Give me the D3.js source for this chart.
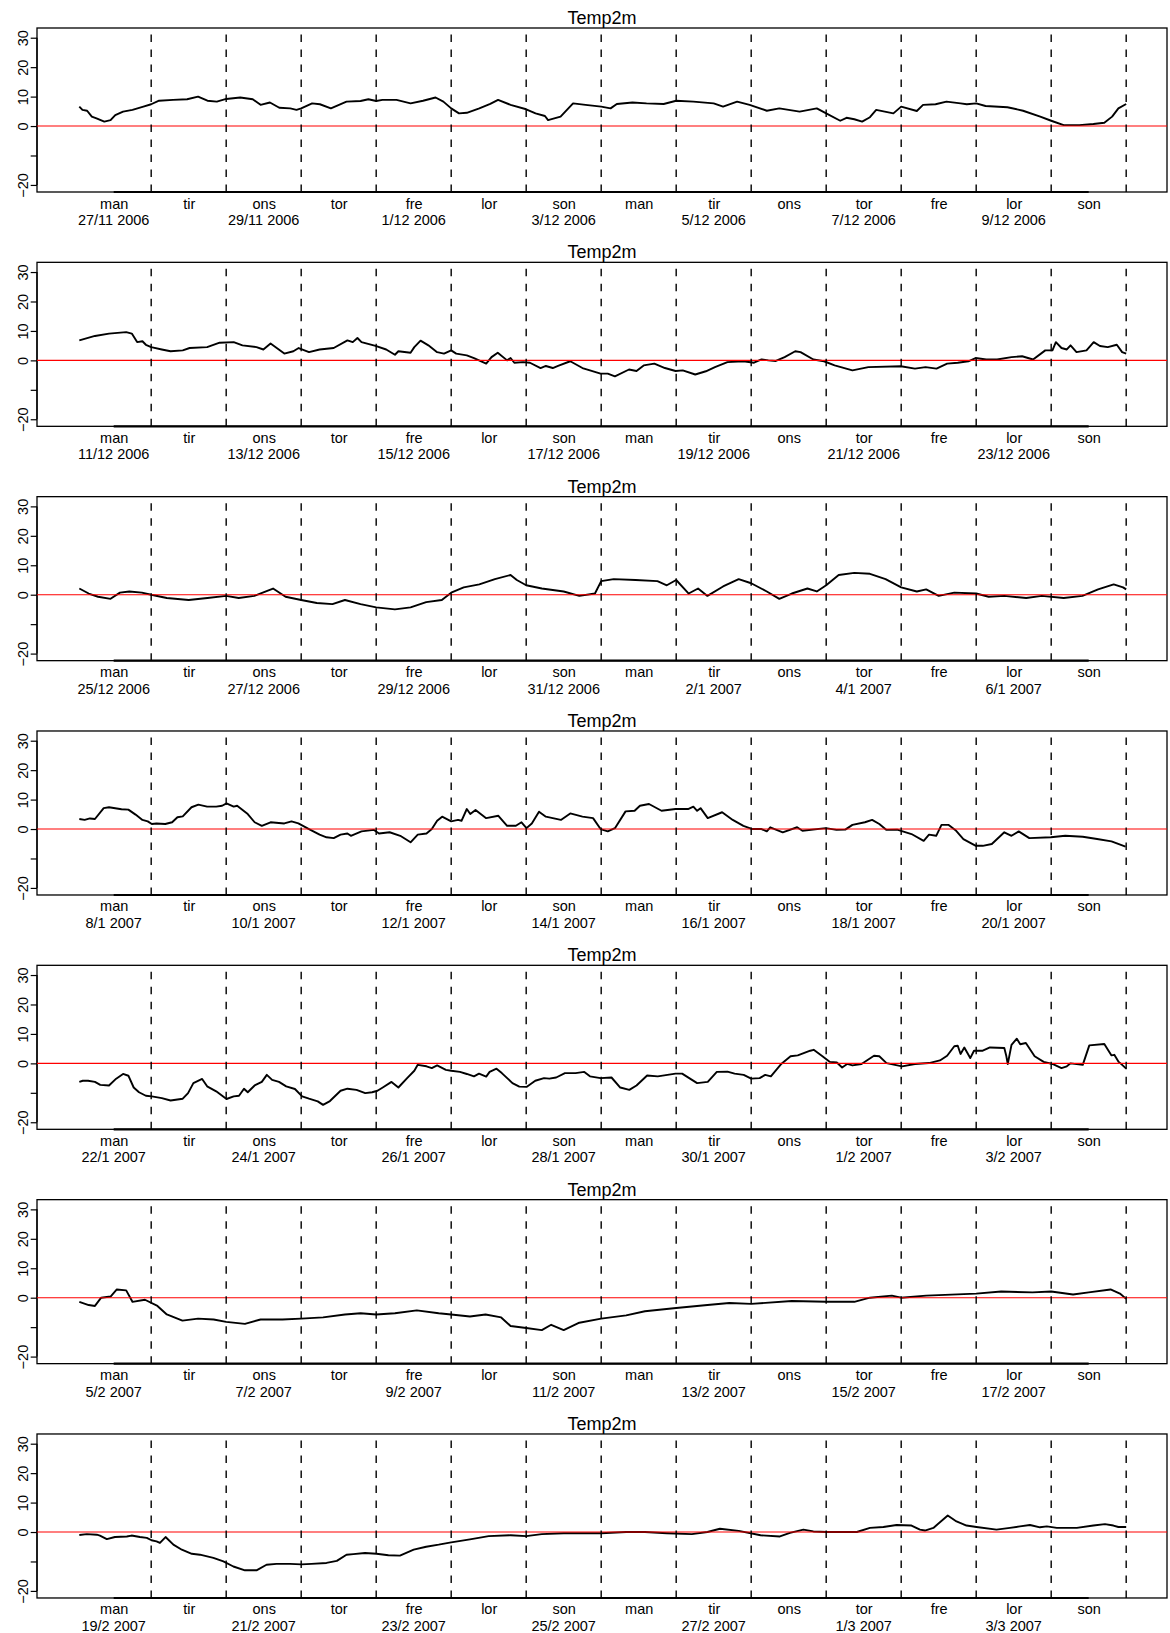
<!DOCTYPE html>
<html>
<head>
<meta charset="utf-8">
<script src="https://cdn.jsdelivr.net/npm/d3@7"></script>
<style>
  body { margin: 0; background: #fff; }
  svg { display: block; }
</style>
</head>
<body>
<svg id="chart" width="1170" height="1633"></svg>
<script>
// ---------------- data ----------------
const chartTitle = "Temp2m";
const dayNames = ["man","tir","ons","tor","fre","lor","son","man","tir","ons","tor","fre","lor","son"];
const yTicks = [-20, -10, 0, 10, 20, 30];
const yTickLabels = ["\u221220", "", "0", "10", "20", "30"];

const dates1 = ["27/11 2006","29/11 2006","1/12 2006","3/12 2006","5/12 2006","7/12 2006","9/12 2006"];
const dates2 = ["11/12 2006","13/12 2006","15/12 2006","17/12 2006","19/12 2006","21/12 2006","23/12 2006"];
const dates3 = ["25/12 2006","27/12 2006","29/12 2006","31/12 2006","2/1 2007","4/1 2007","6/1 2007"];
const dates4 = ["8/1 2007","10/1 2007","12/1 2007","14/1 2007","16/1 2007","18/1 2007","20/1 2007"];
const dates5 = ["22/1 2007","24/1 2007","26/1 2007","28/1 2007","30/1 2007","1/2 2007","3/2 2007"];
const dates6 = ["5/2 2007","7/2 2007","9/2 2007","11/2 2007","13/2 2007","15/2 2007","17/2 2007"];
const dates7 = ["19/2 2007","21/2 2007","23/2 2007","25/2 2007","27/2 2007","1/3 2007","3/3 2007"];

// [hour since Monday 00:00, temperature °C]
const temp1 = [[1,6.6],[2,5.5],[3.5,5.2],[5,3.2],[6.5,2.6],[9,1.5],[11,2.0],[12.5,3.7],[15,4.9],[18,5.5],[21.5,6.6],[24,7.4],[26.5,8.6],[31,8.9],[35.5,9.1],[39,10.0],[42,8.6],[45,8.3],[48,9.2],[52.5,9.7],[56.5,9.1],[59,7.2],[62,8.0],[65,6.2],[68.5,6.0],[70.5,5.5],[72,6.0],[75.5,7.7],[78,7.4],[81.5,6.0],[86.5,8.3],[91,8.5],[93.5,9.1],[96,8.5],[98,8.9],[102.5,8.9],[107,7.7],[111,8.6],[115,9.7],[117.5,8.3],[120,6.0],[122.5,4.3],[125,4.5],[129,6.0],[132.5,7.5],[135,8.9],[139,7.2],[144,5.7],[147,4.3],[150,3.4],[151,2.0],[155,3.2],[159,7.7],[163,7.2],[168,6.6],[171,6.0],[173,7.5],[178,8.0],[182.5,7.7],[188,7.5],[192,8.6],[197.5,8.3],[204,7.7],[207,6.6],[211.5,8.3],[215.5,7.2],[221,5.2],[225,6.0],[231.5,4.9],[237,6.0],[240,4.3],[244.5,1.8],[246.5,2.8],[249,2.3],[251.5,1.5],[254,3.0],[256,5.5],[261.5,4.3],[264,6.6],[269,5.1],[271,7.2],[275,7.4],[278.5,8.3],[283,7.7],[285,7.4],[288,7.7],[291,6.8],[298,6.4],[303,5.2],[308.5,3.2],[312,1.8],[316,0.3],[321,0.3],[325.5,0.7],[329,1.1],[331.5,3.2],[333.5,6.0],[336,7.5]];

const temp2 = [[1,6.8],[6,8.3],[10.5,9.1],[16,9.6],[17.8,9.1],[19.5,6.2],[21.2,6.5],[22.3,5.3],[24,4.5],[27.4,3.7],[30.2,3.1],[34.1,3.4],[36.3,4.2],[41.9,4.5],[45.9,6.0],[50.4,6.2],[53.2,5.1],[57.7,4.5],[59.9,3.7],[62.2,5.7],[66.6,2.3],[69.5,3.1],[71.2,4.2],[74.5,2.8],[77.9,3.7],[82.4,4.2],[86.8,6.8],[88.5,6.2],[90,7.6],[91.3,6.2],[95.8,4.9],[99.2,3.7],[102,1.9],[103.1,3.1],[107,2.6],[108.2,4.5],[110.2,6.7],[112.7,5.1],[115.5,2.8],[117.7,2.3],[120,3.4],[121.6,2.3],[125,1.7],[127.3,0.8],[131.2,-1.1],[132.9,1.1],[134.9,2.6],[137.9,0],[139,0.8],[140.2,-0.8],[143,-0.6],[145.2,-0.8],[148.6,-2.6],[150.3,-1.9],[152.5,-2.6],[154.2,-1.9],[158.1,-0.3],[162,-2.6],[164.4,-3.4],[167.8,-4.5],[170.1,-4.5],[172.4,-5.4],[176.9,-3.1],[179.3,-3.6],[181.6,-1.7],[185,-1.1],[188.4,-2.6],[191.8,-3.6],[194.1,-3.4],[198.1,-4.8],[201.5,-3.7],[204.4,-2.3],[208.4,-0.6],[213.5,-0.3],[216.9,-0.8],[219.3,0.3],[221.5,0],[223.9,-0.2],[226.7,1.1],[230.1,3.1],[231.8,2.8],[235.9,0.3],[239.3,-0.3],[242.7,-1.7],[248.4,-3.4],[253.5,-2.3],[263.9,-2.0],[268.4,-2.8],[271.8,-2.3],[275.3,-2.8],[278.7,-1.1],[282.1,-0.8],[285.5,-0.3],[287.8,0.8],[291.2,0.3],[294.7,0.3],[299.3,1.1],[302.7,1.4],[306.2,0.3],[310.1,3.4],[312.4,3.4],[313.5,6.2],[315.3,4.2],[317,3.7],[318.2,5.1],[320.1,2.8],[323.3,3.4],[325.6,6.2],[327.6,4.9],[330.1,4.5],[333,5.3],[334.7,2.8],[336,2.3]];

const temp3 = [[1,2.1],[4,0.4],[7,-0.7],[11,-1.4],[14,0.7],[17,1.1],[21,0.7],[24,0],[29,-1.1],[36,-1.8],[42,-1.1],[48,-0.4],[52,-1.1],[57,-0.4],[63,2.1],[67,-0.7],[72,-1.8],[77,-2.8],[82,-3.2],[86,-1.8],[91,-3.2],[96,-4.3],[102,-5.0],[107,-4.3],[112,-2.5],[117,-1.8],[120,0.7],[124,2.5],[129,3.5],[134,5.3],[139,6.7],[141,5.0],[144,3.2],[149,2.1],[156,1.1],[161,-0.4],[166,0.4],[168,4.6],[172,5.3],[179,5.0],[186,4.6],[189,3.2],[192,5.0],[196,0.4],[199,2.1],[202,-0.4],[207,2.8],[212,5.3],[216,3.9],[221,1.1],[225,-1.4],[229,0.4],[234,2.1],[237,1.1],[240,3.2],[244,6.7],[249,7.4],[254,7.1],[259,5.3],[264,2.5],[269,1.1],[272,1.8],[276,-0.4],[281,0.7],[288,0.4],[292,-0.7],[297,-0.4],[304,-1.1],[309,-0.4],[316,-1.1],[322,-0.4],[327,1.8],[332,3.5],[335,2.5],[336,1.8]];

const temp4 = [[1,3.4],[2.7,3.1],[4.4,3.6],[6,3.4],[8.8,7.1],[10.5,7.4],[14.5,6.7],[16.7,6.6],[19,4.9],[21.2,3.1],[22.9,2.6],[24.2,1.7],[25.7,1.9],[28.5,1.7],[30.7,2.3],[32.4,4.0],[34.1,4.3],[36.9,7.4],[39.1,8.3],[41.9,7.6],[44.8,7.6],[46.7,7.9],[48.1,8.7],[50.4,7.6],[51.5,7.9],[54.9,5.1],[57.1,2.3],[59.4,1.1],[62.2,2.3],[66.6,1.9],[68.9,2.6],[71.1,1.9],[74.5,0],[77.9,-1.9],[80.1,-2.8],[82.4,-3.1],[84.6,-1.9],[86.8,-1.5],[87.9,-2.3],[91.3,-0.8],[95.3,-0.3],[96.9,-1.5],[100.3,-1.1],[103.7,-2.3],[107,-4.5],[109.3,-1.9],[112.1,-1.5],[113.8,0],[115.5,2.8],[117.1,4.2],[120,2.6],[122.2,3.1],[123.3,2.8],[125,6.8],[126.1,5.1],[127.8,6.5],[131.2,3.7],[135.1,4.5],[137.9,1.1],[140.7,1.1],[142.5,2.3],[144.1,0.3],[145.8,1.9],[148.1,5.9],[150.3,4.2],[152.5,3.7],[155.1,3.1],[158.1,5.3],[162,4.2],[165.4,3.7],[167.8,0],[170.1,-0.8],[172.4,0.3],[175.8,6.0],[178.7,6.2],[180.4,7.9],[183.3,8.5],[187.3,6.2],[191.8,6.8],[195.8,6.8],[197.5,7.6],[198.7,6.2],[199.8,7.1],[202.1,3.7],[206.7,5.7],[210.1,3.1],[213.5,1.1],[216.4,0],[219.3,0],[221,-0.8],[222.1,0.6],[226.1,-1.1],[230.7,0.6],[232.4,-0.6],[239.9,0.3],[243.3,-0.3],[246.1,-0.2],[248.4,1.4],[252.4,2.3],[254.7,3.1],[257,1.7],[259.3,-0.3],[262.7,-0.2],[267.3,-1.7],[271.2,-4.0],[272.9,-1.9],[275.2,-2.3],[276.9,1.4],[279.2,1.4],[281.6,-0.6],[283.9,-3.4],[287.9,-5.7],[290.1,-5.7],[293,-5.1],[297,-1.1],[299.3,-2.3],[301.6,-0.8],[305,-3.1],[311.9,-2.8],[316.5,-2.3],[322.1,-2.6],[326.7,-3.4],[331.3,-4.2],[335.8,-6.0]];

const temp5 = [[1,-6.3],[2.1,-5.9],[3.8,-5.9],[6,-6.3],[7.7,-7.3],[10.5,-7.5],[12.8,-5.2],[15,-3.6],[16.7,-4.2],[18.4,-8.2],[20.1,-9.8],[22.3,-11.0],[24.2,-11.2],[27.4,-11.8],[30.2,-12.6],[34.1,-12.0],[35.8,-10.1],[37.5,-6.7],[40.3,-5.3],[41.9,-7.8],[44.8,-9.5],[48.1,-12.1],[50.4,-11.2],[52.1,-11.0],[53.7,-8.6],[54.9,-9.8],[57.1,-7.5],[59.4,-6.3],[61,-3.9],[62.7,-5.6],[64.9,-6.3],[67.2,-7.8],[70,-8.7],[72.3,-11.2],[74.5,-12.0],[77.3,-12.9],[79,-14.1],[81.2,-12.8],[84.6,-9.3],[86.8,-8.6],[89.7,-9.0],[92.5,-10.1],[94.7,-9.8],[96.4,-9.3],[98.1,-8.2],[100.9,-6.3],[103.1,-8.2],[105.9,-5.0],[108.2,-2.5],[109.3,-0.5],[112.1,-1.0],[113.8,-1.6],[115.5,-0.7],[118.3,-2.2],[120,-2.5],[122.8,-2.9],[125,-3.6],[127.3,-4.4],[128.9,-3.5],[131.2,-4.5],[132.3,-2.9],[134.5,-1.8],[136.2,-3.3],[139.6,-6.7],[141.8,-7.9],[144.1,-8.0],[146.9,-5.9],[149.7,-5.0],[151.4,-5.2],[153.6,-4.8],[156.4,-3.3],[159.8,-3.3],[162.6,-2.9],[164.4,-4.4],[167.8,-5.0],[171.3,-4.8],[174.1,-8.2],[177,-9.0],[179.3,-7.5],[182.7,-4.1],[186.1,-4.4],[191.8,-3.5],[193.9,-3.5],[198.7,-6.7],[202.1,-6.3],[205,-2.9],[208.4,-2.8],[210.7,-3.5],[213.6,-3.9],[216,-5.2],[218.7,-5.0],[220.5,-3.9],[222.3,-4.4],[225.7,-0.1],[228.6,2.4],[230.9,2.7],[234.9,4.3],[236,4.6],[238.8,2.4],[241.2,0.5],[243.4,0.3],[245.1,-1.4],[246.7,-0.2],[248.4,-0.7],[251.3,-0.2],[255.3,2.6],[257,2.4],[259.3,0.1],[264.3,-1.0],[268.4,-0.2],[272.9,0.1],[276.4,1.0],[278.7,2.6],[281,5.8],[282.1,6.0],[283,3.2],[284.2,5.4],[286.1,1.8],[287.3,4.3],[290.1,4.3],[292.4,5.4],[297,5.2],[297.6,2.7],[298.1,-0.2],[299.3,6.3],[301,8.4],[302.1,6.5],[303.9,6.9],[306.7,2.4],[309.6,0.5],[312.4,-0.2],[315.3,-1.6],[317,-1.0],[318.2,0],[322.1,-0.5],[324.2,6.1],[329,6.6],[331.3,2.7],[332.2,2.9],[333.6,0.5],[334.7,-0.5],[336,-1.8]];

const temp6 = [[1,-1.4],[4,-2.5],[6,-2.8],[8,0],[11,0.4],[13,2.8],[16,2.5],[18,-1.4],[22,-0.7],[26,-2.8],[29,-5.7],[34,-7.8],[39,-7.1],[44,-7.4],[48,-8.2],[54,-8.9],[59,-7.4],[66,-7.4],[72,-7.1],[79,-6.7],[86,-5.7],[91,-5.3],[96,-5.7],[102,-5.3],[109,-4.3],[116,-5.3],[120,-5.7],[126,-6.4],[131,-5.7],[136,-6.7],[139,-9.6],[144,-10.3],[149,-11.0],[152,-9.2],[156,-11.0],[161,-8.5],[168,-7.1],[176,-6.0],[182,-4.6],[192,-3.5],[202,-2.5],[209,-1.8],[216,-2.1],[229,-1.1],[240,-1.4],[249,-1.4],[254,0],[261,0.7],[264,0],[272,0.7],[288,1.4],[296,2.1],[306,1.8],[312,2.1],[319,1.1],[324,1.8],[331,2.8],[334,1.4],[336,-0.4]];

const temp7 = [[1,-1.0],[3.4,-0.7],[6.6,-0.9],[7.6,-1.2],[9.8,-2.4],[12.4,-1.7],[16.2,-1.5],[17.7,-1.2],[20.4,-1.7],[22.6,-2.0],[24.1,-2.8],[25.7,-3.2],[26.8,-3.7],[28.6,-1.7],[31.1,-4.3],[33.8,-6.0],[37,-7.4],[39.6,-7.7],[43.9,-8.8],[47.1,-10.0],[50.3,-11.7],[54,-13.0],[57.7,-13.0],[60.9,-11.1],[64.1,-10.8],[68.4,-10.8],[72.1,-11.0],[75.3,-10.8],[80.1,-10.5],[83.4,-9.8],[86.5,-7.7],[88.7,-7.5],[92.4,-7.1],[96.1,-7.4],[99.9,-7.9],[103.6,-8.0],[108,-6.0],[112,-5.0],[116,-4.3],[120,-3.5],[126,-2.5],[132,-1.4],[139,-1.1],[144,-1.4],[149,-0.7],[156,-0.4],[162,-0.4],[168,-0.4],[176,0],[182,0],[189,-0.4],[197,-0.7],[202,0],[206,1.1],[212,0.4],[219,-1.1],[225.2,-1.5],[228.4,-0.3],[232.7,0.8],[235.9,0.2],[240.1,0],[249.8,0],[254,1.4],[258.3,1.7],[262.5,2.4],[267.3,2.2],[270,0.8],[271.6,0.5],[274.3,1.4],[278.9,5.6],[281.7,3.6],[284.9,2.2],[288.1,1.7],[294.5,0.8],[298.8,1.4],[302,1.9],[305.2,2.4],[308.4,1.6],[310.6,1.9],[313.8,1.4],[320.2,1.4],[325.5,2.2],[329.2,2.7],[331.9,2.2],[333.5,1.7],[336,1.7]];

const panels = [
  { data: temp1, dates: dates1 },
  { data: temp2, dates: dates2 },
  { data: temp3, dates: dates3 },
  { data: temp4, dates: dates4 },
  { data: temp5, dates: dates5 },
  { data: temp6, dates: dates6 },
  { data: temp7, dates: dates7 }
];

// ---------------- layout ----------------
const FONT = "'Liberation Sans', Arial, Helvetica, sans-serif";
const plotLeft = 37, plotRight = 1167;
const firstTop = 28, panelStep = 234.33, plotH = 164;
const nDays = 14;
const dayBounds = d3.range(1, nDays + 1).map(d => d * 24);      // midnights
const noonHours = d3.range(0, nDays).map(d => d * 24 + 12);     // label positions

const svg = d3.select("#chart");
svg.append("rect").attr("width", 1170).attr("height", 1633).attr("fill", "#fff");

const x = d3.scaleLinear().domain([-12.54, 349.06]).range([plotLeft, plotRight]);

panels.forEach((p, i) => {
  const top = firstTop + panelStep * i;
  const bottom = top + plotH;
  const y = d3.scaleLinear().domain([-22.4, 33.3]).range([bottom, top]);
  const g = svg.append("g").attr("font-family", FONT);

  // title
  g.append("text")
    .attr("x", (plotLeft + plotRight) / 2)
    .attr("y", top - 4)
    .attr("text-anchor", "middle")
    .attr("font-size", 18)
    .attr("fill", "#000")
    .text(chartTitle);

  // data line
  const line = d3.line().x(d => x(d[0])).y(d => y(d[1]));
  g.append("path")
    .datum(p.data)
    .attr("d", line)
    .attr("fill", "none")
    .attr("stroke", "#000")
    .attr("stroke-width", 1.9)
    .attr("stroke-linejoin", "round");

  // box
  g.append("rect")
    .attr("x", plotLeft).attr("y", top)
    .attr("width", plotRight - plotLeft).attr("height", plotH)
    .attr("fill", "none").attr("stroke", "#000").attr("stroke-width", 1.3);

  // y axis
  const yAxis = d3.axisLeft(y)
    .tickValues(yTicks)
    .tickSize(6.3)
    .tickFormat((d, k) => yTickLabels[k]);
  const ya = g.append("g").attr("transform", `translate(${plotLeft},0)`).call(yAxis);
  ya.select(".domain").remove();
  ya.selectAll(".tick line").attr("stroke", "#000").attr("stroke-width", 1.2);
  ya.selectAll(".tick text")
    .attr("font-family", FONT)
    .attr("font-size", 14.5)
    .attr("fill", "#000")
    .attr("x", 0).attr("y", -9.5).attr("dy", null)
    .attr("text-anchor", "middle")
    .attr("transform", "rotate(-90)");
  g.append("line")
    .attr("x1", plotLeft).attr("x2", plotLeft)
    .attr("y1", y(-20)).attr("y2", y(30))
    .attr("stroke", "#000").attr("stroke-width", 1.3);

  // x axis (day names)
  const xAxis = d3.axisBottom(x)
    .tickValues(noonHours)
    .tickSize(0)
    .tickFormat((d, k) => dayNames[k]);
  const xa = g.append("g").attr("transform", `translate(0,${bottom})`).call(xAxis);
  xa.select(".domain").remove();
  xa.selectAll(".tick text")
    .attr("font-family", FONT)
    .attr("font-size", 14.5)
    .attr("fill", "#000")
    .attr("y", 16.5).attr("dy", null);
  g.append("line")
    .attr("x1", x(noonHours[0])).attr("x2", x(noonHours[noonHours.length - 1]))
    .attr("y1", bottom).attr("y2", bottom)
    .attr("stroke", "#000").attr("stroke-width", 2.2);

  // date labels (every second day)
  g.selectAll("text.date")
    .data(p.dates)
    .enter().append("text")
    .attr("class", "date")
    .attr("x", (d, k) => x(noonHours[k * 2]))
    .attr("y", bottom + 33)
    .attr("text-anchor", "middle")
    .attr("font-size", 14.5)
    .attr("fill", "#000")
    .text(d => d);

  // zero reference line
  g.append("line")
    .attr("x1", plotLeft).attr("x2", plotRight)
    .attr("y1", y(0)).attr("y2", y(0))
    .attr("stroke", "#ff0000").attr("stroke-width", 1.1);

  // midnight separators
  g.selectAll("line.day")
    .data(dayBounds)
    .enter().append("line")
    .attr("class", "day")
    .attr("x1", d => x(d)).attr("x2", d => x(d))
    .attr("y1", bottom).attr("y2", top)
    .attr("stroke", "#000")
    .attr("stroke-width", 1.4)
    .attr("stroke-dasharray", "7.5,7.5");
});
</script>
</body>
</html>
